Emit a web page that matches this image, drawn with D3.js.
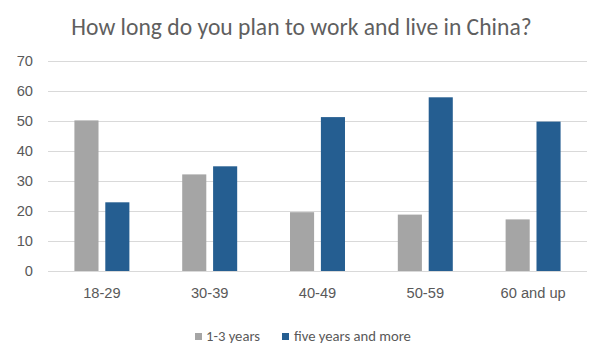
<!DOCTYPE html>
<html><head><meta charset="utf-8">
<script src="https://cdn.jsdelivr.net/npm/d3@7"></script>
<style>body{margin:0;background:#fff;}svg{display:block;font-family:Calibri,Carlito,"Open Sans","Liberation Sans",sans-serif;}</style>
</head><body>
<svg id="c" width="600" height="359"></svg>
<script>
const categories = ["18-29","30-39","40-49","50-59","60 and up"];
const seriesNames = ["1-3 years","five years and more"];
const shortTerm = [50.2, 32.2, 19.6, 18.8, 17.2];
const longTerm = [22.9, 34.9, 51.3, 57.9, 49.8];
const yTicks = [0,10,20,30,40,50,60,70];
const colors = ["#A5A5A5","#255E91"];

(function(){
const svg = d3.select("#c");
const pl=48, pr=587, pt=61, pb=271;
const x0 = d3.scaleBand().domain(categories).range([pl,pr]).paddingInner(0.49).paddingOuter(0.245);
const x1 = d3.scaleBand().domain(seriesNames).range([0,x0.bandwidth()]).paddingInner(0.22);
const y = d3.scaleLinear().domain([0,70]).range([pb,pt]);

svg.append("text").attr("x",301.5).attr("y",35).attr("text-anchor","middle")
  .attr("font-size",23.6).attr("fill","#5f5f5f").text("How long do you plan to work and live in China?");

const yAxis = d3.axisLeft(y).tickValues(yTicks).tickSize(-(pr-pl)).tickPadding(15);
const gy = svg.append("g").attr("transform",`translate(${pl},0)`).call(yAxis);
gy.select(".domain").remove();
gy.selectAll("line").attr("stroke","#D9D9D9").attr("stroke-width",1);
gy.selectAll("text").attr("font-size",14.67).attr("fill","#595959").attr("font-family","inherit");

const xAxis = d3.axisBottom(x0).tickSize(0).tickPadding(17);
const gx = svg.append("g").attr("transform",`translate(0,${pb})`).call(xAxis);
gx.select(".domain").remove();
gx.selectAll("text").attr("font-size",14.67).attr("fill","#595959").attr("font-family","inherit");

const data = categories.map((c,i)=>({cat:c, vals:[shortTerm[i], longTerm[i]]}));
const g = svg.append("g").selectAll("g").data(data).join("g")
  .attr("transform",d=>`translate(${x0(d.cat)},0)`);
g.selectAll("rect").data(d=>d.vals.map((v,j)=>({s:seriesNames[j],v,j}))).join("rect")
  .attr("x",d=>x1(d.s)).attr("width",x1.bandwidth())
  .attr("y",d=>y(d.v)).attr("height",d=>y(0)-y(d.v)).attr("fill",d=>colors[d.j]);

const leg = [[195,206],[282,294]];
seriesNames.forEach((s,i)=>{
  svg.append("rect").attr("x",leg[i][0]).attr("y",333).attr("width",7).attr("height",7).attr("fill",colors[i]);
  svg.append("text").attr("x",leg[i][1]).attr("y",341).attr("font-size",14.67).attr("fill","#595959").text(s);
});
})();
</script>
</body></html>
